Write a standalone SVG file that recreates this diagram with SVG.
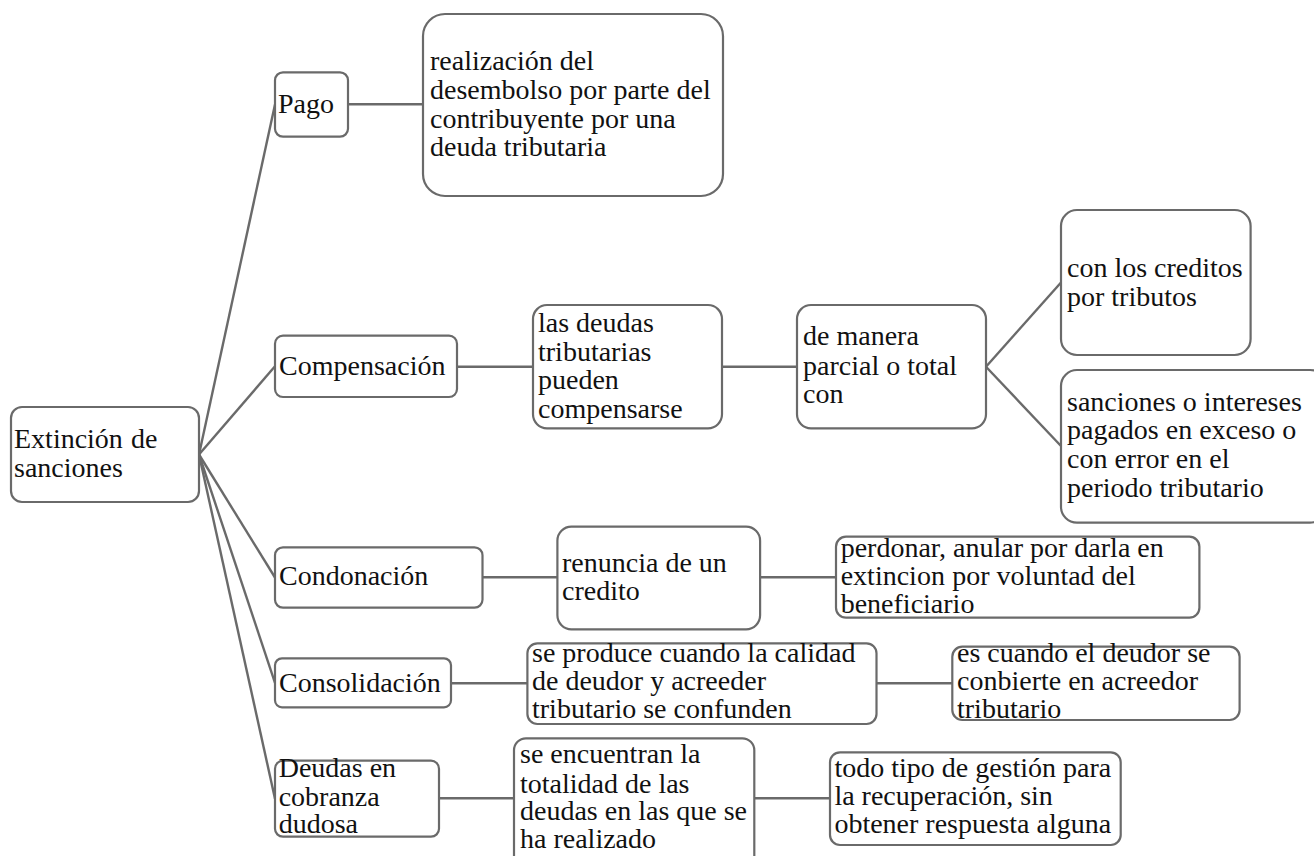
<svg xmlns="http://www.w3.org/2000/svg" width="1314" height="856" viewBox="0 0 1314 856">
<style>
.box{fill:#fff;stroke:#6a6a6a;stroke-width:2.2}
.con{fill:none;stroke:#6a6a6a;stroke-width:2.4}
</style>
<rect width="1314" height="856" fill="#fff"/>
<g id="connectors">
<line class="con" x1="199" y1="454.5" x2="275" y2="104.5"/>
<line class="con" x1="199" y1="454.5" x2="275" y2="366.3"/>
<line class="con" x1="199" y1="454.5" x2="275" y2="577.5"/>
<line class="con" x1="199" y1="454.5" x2="275" y2="682.8"/>
<line class="con" x1="199" y1="454.5" x2="275" y2="798.7"/>
<line class="con" x1="348" y1="104.3" x2="423" y2="104.3"/>
<line class="con" x1="457" y1="366.7" x2="533" y2="366.7"/>
<line class="con" x1="722" y1="366.7" x2="797" y2="366.7"/>
<line class="con" x1="986" y1="366.7" x2="1061" y2="282.5"/>
<line class="con" x1="986" y1="366.7" x2="1061" y2="446"/>
<line class="con" x1="482" y1="577.3" x2="557" y2="577.3"/>
<line class="con" x1="760" y1="577.3" x2="836" y2="577.3"/>
<line class="con" x1="451" y1="683.3" x2="527" y2="683.3"/>
<line class="con" x1="876" y1="683.3" x2="952" y2="683.3"/>
<line class="con" x1="439" y1="798.3" x2="514" y2="798.3"/>
<line class="con" x1="754" y1="798.3" x2="830" y2="798.3"/>
</g>
<g font-family="Liberation Serif" font-size="28" fill="#111">
<g id="root">
<rect class="box" x="11" y="407" width="188" height="95" rx="11"/>
<text x="14" y="448">Extinción <tspan x="131">de</tspan></text>
<text x="14" y="477">sanciones</text>
</g>
<g id="pago">
<rect class="box" x="275" y="72.3" width="73" height="64.4" rx="8"/>
<text x="278" y="113">Pago</text>
</g>
<g id="pago-desc">
<rect class="box" x="423" y="14" width="300" height="182" rx="22"/>
<text x="430" y="70">realización del</text>
<text x="430" y="99">desembolso por parte del</text>
<text x="430" y="127.7">contribuyente por una</text>
<text x="430" y="156">deuda tributaria</text>
</g>
<g id="compensacion">
<rect class="box" x="275" y="335.7" width="182" height="61.3" rx="8"/>
<text x="279" y="375">Compensación</text>
</g>
<g id="compensar">
<rect class="box" x="533" y="305" width="189" height="123.3" rx="14"/>
<text x="538" y="331.7">las deudas</text>
<text x="538" y="360.7">tributarias</text>
<text x="538" y="389">pueden</text>
<text x="538" y="418">compensarse</text>
</g>
<g id="manera">
<rect class="box" x="797" y="305" width="189" height="123.3" rx="14"/>
<text x="803" y="345">de manera</text>
<text x="803" y="375">parcial o total</text>
<text x="803" y="402.7">con</text>
</g>
<g id="creditos">
<rect class="box" x="1061" y="210" width="189.6" height="145" rx="16"/>
<text x="1067" y="277">con los creditos</text>
<text x="1067" y="306">por tributos</text>
</g>
<g id="sanciones">
<rect class="box" x="1061" y="370" width="265" height="152.7" rx="16"/>
<text x="1067" y="410.7">sanciones o intereses</text>
<text x="1067" y="439">pagados en exceso o</text>
<text x="1067" y="467.7">con error en el</text>
<text x="1067" y="496.7">periodo tributario</text>
</g>
<g id="condonacion">
<rect class="box" x="275" y="547.3" width="207.5" height="60.4" rx="8"/>
<text x="279" y="585">Condonación</text>
</g>
<g id="renuncia">
<rect class="box" x="557.4" y="526.7" width="202.7" height="102.6" rx="14"/>
<text x="562" y="571.7">renuncia de un</text>
<text x="562" y="600">credito</text>
</g>
<g id="perdonar">
<rect class="box" x="836" y="536.7" width="363.4" height="81" rx="10"/>
<text x="840.7" y="556.7">perdonar, anular por darla en</text>
<text x="840.7" y="585">extincion <tspan x="952.3">por voluntad del</tspan></text>
<text x="840.7" y="613.3">beneficiario</text>
</g>
<g id="consolidacion">
<rect class="box" x="275" y="658.3" width="176" height="49" rx="7"/>
<text x="279" y="691.7">Consolidación</text>
</g>
<g id="produce">
<rect class="box" x="527.4" y="643.3" width="349.1" height="80.7" rx="10"/>
<text x="532" y="661.7">se produce cuando la calidad</text>
<text x="532" y="690">de deudor y acreeder</text>
<text x="532" y="718.3">tributario se confunden</text>
</g>
<g id="cuando">
<rect class="box" x="952.3" y="646.7" width="287.3" height="73.3" rx="10"/>
<text x="957" y="661.7">es cuando el deudor se</text>
<text x="957" y="690">conbierte en acreedor</text>
<text x="957" y="718.3">tributario</text>
</g>
<g id="deudas">
<rect class="box" x="275" y="760.7" width="164" height="76" rx="8"/>
<text x="278.7" y="776.7">Deudas en</text>
<text x="278.7" y="806">cobranza</text>
<text x="278.7" y="833.3">dudosa</text>
</g>
<g id="encuentran">
<rect class="box" x="514" y="738.3" width="240.3" height="130" rx="12"/>
<text x="520" y="763.3">se encuentran la</text>
<text x="520" y="792.7">totalidad de las</text>
<text x="520" y="820">deudas en las que se</text>
<text x="520" y="848.3">ha realizado</text>
</g>
<g id="gestion">
<rect class="box" x="830" y="752.3" width="290.7" height="92.7" rx="10"/>
<text x="834.4" y="776.7">todo tipo de gestión para</text>
<text x="834.4" y="805">la recuperación, sin</text>
<text x="834.4" y="833.3">obtener respuesta alguna</text>
</g>
</g>
</svg>
